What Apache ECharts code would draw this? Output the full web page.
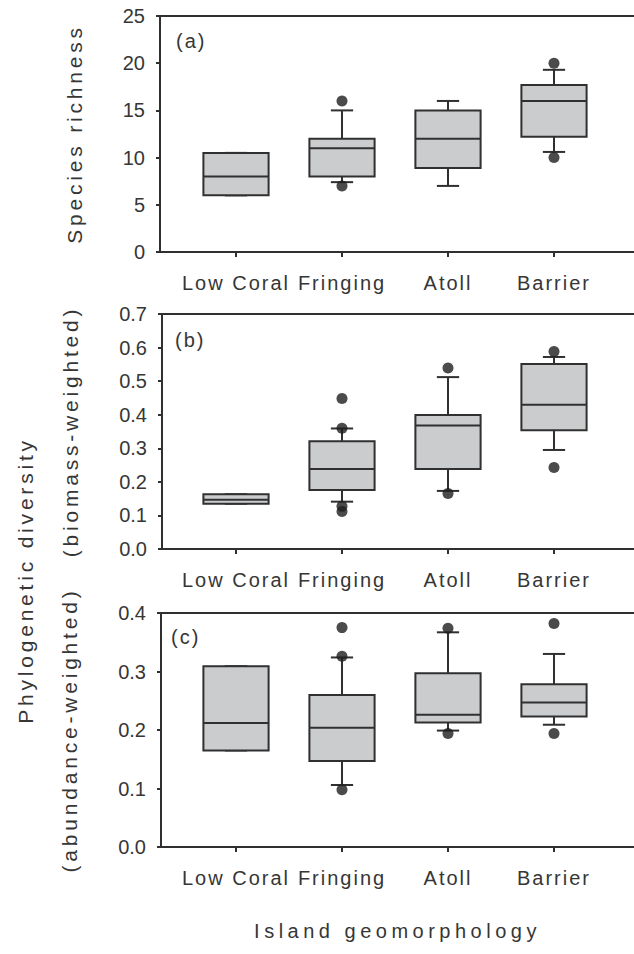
<!DOCTYPE html>
<html>
<head>
<meta charset="utf-8">
<script src="https://cdn.jsdelivr.net/npm/echarts@6/dist/echarts.min.js"></script>
<style>
  html, body { margin: 0; padding: 0; background: #fff; }
  #chart { width: 634px; height: 954px; }
</style>
</head>
<body>
<div id="chart"></div>
<script>
// ---------- data ----------
const categories = ['Low Coral', 'Fringing', 'Atoll', 'Barrier'];

// [lower whisker, Q1, median, Q3, upper whisker]
const richnessBoxes = [
  [6, 6, 8, 10.5, 10.5],
  [7.4, 8, 11, 12, 15],
  [7, 8.9, 12, 15, 16],
  [10.6, 12.2, 16, 17.7, 19.3]
];
const richnessOutliers = [[1, 16], [1, 7], [3, 20], [3, 10]];

const biomassBoxes = [
  [0.135, 0.135, 0.147, 0.163, 0.163],
  [0.141, 0.176, 0.238, 0.321, 0.359],
  [0.173, 0.238, 0.368, 0.399, 0.512],
  [0.295, 0.354, 0.43, 0.551, 0.572]
];
const biomassOutliers = [[1, 0.448], [1, 0.36], [1, 0.127], [1, 0.112], [2, 0.539], [2, 0.165], [3, 0.588], [3, 0.243]];

const abundanceBoxes = [
  [0.165, 0.165, 0.212, 0.309, 0.309],
  [0.106, 0.147, 0.204, 0.26, 0.324],
  [0.199, 0.213, 0.226, 0.297, 0.367],
  [0.209, 0.223, 0.247, 0.278, 0.33]
];
const abundanceOutliers = [[1, 0.375], [1, 0.326], [1, 0.098], [2, 0.374], [2, 0.194], [3, 0.382], [3, 0.194]];

const panelLabels = ['(a)', '(b)', '(c)'];
const yTitles = ['Species richness', '(biomass-weighted)', '(abundance-weighted)'];
const sharedYTitle = 'Phylogenetic diversity';
const xTitle = 'Island geomorphology';
const yRanges = [[0, 25, 5], [0, 0.7, 0.1], [0, 0.4, 0.1]];
const yDecimals = [0, 1, 1];

// ---------- style ----------
const FONT = '"Liberation Sans", Arial, Helvetica, sans-serif';
const textColor = '#363636';
const lineColor = '#303030';
const boxFill = '#cbccce';

const panels = [
  { top: 16, height: 236, axisX: 160, boxes: richnessBoxes, outliers: richnessOutliers, nameGap: 75 },
  { top: 314, height: 235, axisX: 162, boxes: biomassBoxes, outliers: biomassOutliers, nameGap: 81 },
  { top: 613, height: 234, axisX: 161, boxes: abundanceBoxes, outliers: abundanceOutliers, nameGap: 81 }
];

function renderBox(params, api) {
  const x = api.value(0);
  const lo = api.coord([x, api.value(1)]);
  const q1 = api.coord([x, api.value(2)]);
  const med = api.coord([x, api.value(3)]);
  const q3 = api.coord([x, api.value(4)]);
  const hi = api.coord([x, api.value(5)]);
  const band = api.size([1, 0])[0];
  const bw = band * 0.615;
  const cw = band * 0.21;
  const cx = q1[0];
  const ls = { stroke: lineColor, lineWidth: 2, fill: null };
  return {
    type: 'group',
    children: [
      { type: 'line', shape: { x1: cx, y1: hi[1], x2: cx, y2: q3[1] }, style: ls },
      { type: 'line', shape: { x1: cx, y1: q1[1], x2: cx, y2: lo[1] }, style: ls },
      { type: 'line', shape: { x1: cx - cw / 2, y1: hi[1], x2: cx + cw / 2, y2: hi[1] }, style: ls },
      { type: 'line', shape: { x1: cx - cw / 2, y1: lo[1], x2: cx + cw / 2, y2: lo[1] }, style: ls },
      { type: 'rect', shape: { x: cx - bw / 2, y: q3[1], width: bw, height: q1[1] - q3[1] },
        style: { fill: boxFill, stroke: lineColor, lineWidth: 2 } },
      { type: 'line', shape: { x1: cx - bw / 2, y1: med[1], x2: cx + bw / 2, y2: med[1] }, style: ls }
    ]
  };
}

const grid = [], xAxis = [], yAxis = [], series = [], title = [];

panels.forEach((p, i) => {
  const [ymin, ymax, yint] = yRanges[i];
  // frame grid
  grid.push({ left: p.axisX, right: 0, top: p.top, height: p.height, containLabel: false });
  // data grid (category band)
  grid.push({ left: 183, width: 424, top: p.top, height: p.height, containLabel: false });
  const fg = 2 * i, dg = 2 * i + 1;

  // frame bottom x axis
  xAxis.push({
    type: 'value', gridIndex: fg, min: 0, max: 1, position: 'bottom',
    axisLine: { show: true, lineStyle: { color: lineColor, width: 2 } },
    axisTick: { show: false }, axisLabel: { show: false }, splitLine: { show: false },
    name: i === 2 ? xTitle : '', nameLocation: 'middle', nameGap: 74,
    nameTextStyle: { fontFamily: FONT, fontSize: 20, color: textColor }
  });
  // frame top x axis
  xAxis.push({
    type: 'value', gridIndex: fg, min: 0, max: 1, position: 'top',
    axisLine: { show: true, lineStyle: { color: lineColor, width: 2 } },
    axisTick: { show: false }, axisLabel: { show: false }, splitLine: { show: false }
  });
  // category axis
  xAxis.push({
    type: 'category', gridIndex: dg, data: categories, boundaryGap: true, position: 'bottom',
    axisLine: { show: false },
    axisTick: { show: true, alignWithLabel: true, length: 5, lineStyle: { color: lineColor, width: 2 } },
    axisLabel: { show: true, margin: 21, fontFamily: FONT, fontSize: 20, color: textColor, interval: 0 },
    splitLine: { show: false }
  });

  yAxis.push({
    type: 'value', gridIndex: fg, min: ymin, max: ymax, interval: yint,
    axisLine: { show: true, lineStyle: { color: lineColor, width: 2 } },
    axisTick: { show: true, inside: false, length: 4, lineStyle: { color: lineColor, width: 2 } },
    axisLabel: { margin: 15, fontFamily: FONT, fontSize: 20, color: textColor,
      formatter: v => Number(v).toFixed(yDecimals[i]) },
    splitLine: { show: false },
    name: yTitles[i], nameLocation: 'middle', nameGap: p.nameGap,
    nameTextStyle: { fontFamily: FONT, fontSize: 21, color: textColor }
  });
  yAxis.push({
    type: 'value', gridIndex: dg, min: ymin, max: ymax, interval: yint, show: false
  });

  series.push({
    type: 'custom', xAxisIndex: 3 * i + 2, yAxisIndex: 2 * i + 1,
    renderItem: renderBox,
    encode: { x: 0, y: [1, 2, 3, 4, 5] },
    data: p.boxes.map((b, k) => [k].concat(b)),
    z: 2, silent: true
  });
  series.push({
    type: 'scatter', xAxisIndex: 3 * i + 2, yAxisIndex: 2 * i + 1,
    data: p.outliers, symbol: 'circle', symbolSize: 11,
    itemStyle: { color: '#1e1e1e' }, z: 5, silent: true
  });

  title.push({
    text: panelLabels[i], left: [176, 175, 171][i], top: [31, 330, 627][i], padding: 0,
    textStyle: { fontFamily: FONT, fontSize: 20, fontWeight: 'normal', color: textColor }
  });
});

// hidden grid carrying the shared y title for panels (b) and (c)
grid.push({ left: 160, width: 10, top: 314, bottom: 954 - 847 });
xAxis.push({ type: 'value', gridIndex: 6, show: false });
yAxis.push({
  type: 'value', gridIndex: 6, min: 0, max: 1,
  axisLine: { show: false }, axisTick: { show: false }, axisLabel: { show: false }, splitLine: { show: false },
  name: sharedYTitle, nameLocation: 'middle', nameGap: 124,
  nameTextStyle: { fontFamily: FONT, fontSize: 21, color: textColor }
});

const chart = echarts.init(document.getElementById('chart'), null, { renderer: 'svg' });
chart.setOption({
  animation: false,
  backgroundColor: '#ffffff',
  title, grid, xAxis, yAxis, series
});

// widen letter spacing of labels as in the original figure
function applySpacing() {
  document.querySelectorAll('#chart svg text').forEach(t => {
    const s = t.textContent;
    let ls = null;
    if (categories.includes(s)) ls = 2;
    else if (yTitles.includes(s) || s === sharedYTitle) ls = 3.8;
    else if (s === xTitle) ls = 4.5;
    else if (panelLabels.includes(s)) ls = 2;
    if (ls !== null) t.setAttribute('letter-spacing', ls);
  });
}
applySpacing();
chart.on('finished', applySpacing);
</script>
</body>
</html>
